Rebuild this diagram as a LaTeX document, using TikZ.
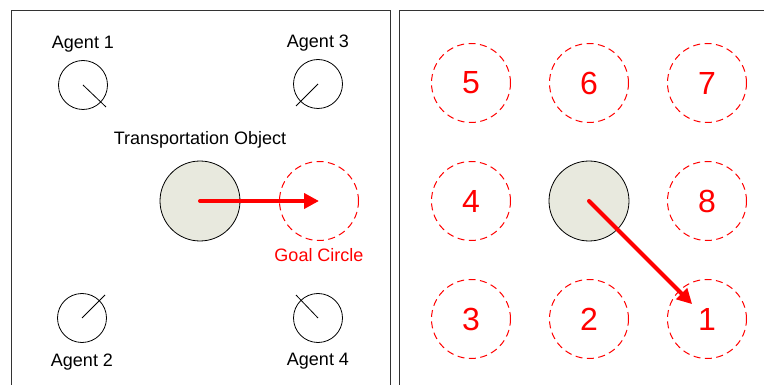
\documentclass[tikz,border=0pt]{standalone}
\usepackage{fontspec}
\setmainfont{Liberation Sans}
\usetikzlibrary{positioning,arrows.meta}
\definecolor{objgray}{RGB}{232,233,222}

\begin{document}
\begin{tikzpicture}[x=1pt,y=-1pt,node distance=118pt,on grid,
        font=\fontsize{18}{20}\selectfont,
        agent/.style={circle,draw,line width=0.8pt,minimum size=49pt,inner sep=0pt},
        tag/.style={label distance=7pt},
        object/.style={circle,draw,line width=0.8pt,fill=objgray,minimum size=80pt,inner sep=0pt},
        goal/.style={circle,draw=red,line width=1pt,dash pattern=on 7pt off 4.5pt,minimum size=79pt,inner sep=0pt,
            text=red,font=\fontsize{32}{34}\selectfont},
        move/.style={red,line width=4pt,line cap=round,-{Triangle[length=15pt,width=15pt]}}]
    \clip (0,0) rectangle (764,385);

    % left panel: agents around the object
    \draw[line width=1pt,black!80] (11,11) rectangle (390,400);
    \node[agent,label={[tag,label distance=4pt]above:Agent 1}] (a1) at (83,85) {};
    \node[agent,label={[tag,label distance=4pt]above:Agent 3}] (a3) at (318,84) {};
    \node[agent,label={[tag]below:Agent 2}] (a2) at (82,318) {};
    \node[agent,label={[tag]below:Agent 4}] (a4) at (318,318) {};
    \draw[line width=0.8pt] (a1.center) -- ++(23,22);
    \draw[line width=0.8pt] (a3.center) -- ++(-22,22);
    \draw[line width=0.8pt] (a2.center) -- ++(23,-23);
    \draw[line width=0.8pt] (a4.center) -- ++(-22,-23);

    \node[object,label={[label distance=9pt]above:Transportation Object}] (o1) at (200,201) {};
    \node[goal,label={[red,label distance=4pt]below:Goal Circle}] (g0) [right=119pt of o1] {};
    \draw[move] (o1.center) -- (g0.center);

    % right panel: eight goal positions
    \draw[line width=1pt,black!80] (399,11) rectangle (780,400);
    \node[object] (o2) at (589,201) {};
    \node[goal] (g8) [right=of o2] {8};
    \node[goal] (g4) [left=of o2] {4};
    \node[goal] (g6) [above=of o2] {6};
    \node[goal] (g2) [below=of o2] {2};
    \node[goal] (g5) [left=of g6] {5};
    \node[goal] (g7) [right=of g6] {7};
    \node[goal] (g3) [left=of g2] {3};
    \node[goal] (g1) [right=of g2] {1};
    \draw[move,shorten >=21pt] (o2.center) -- (g1.center);
\end{tikzpicture}
\end{document}
